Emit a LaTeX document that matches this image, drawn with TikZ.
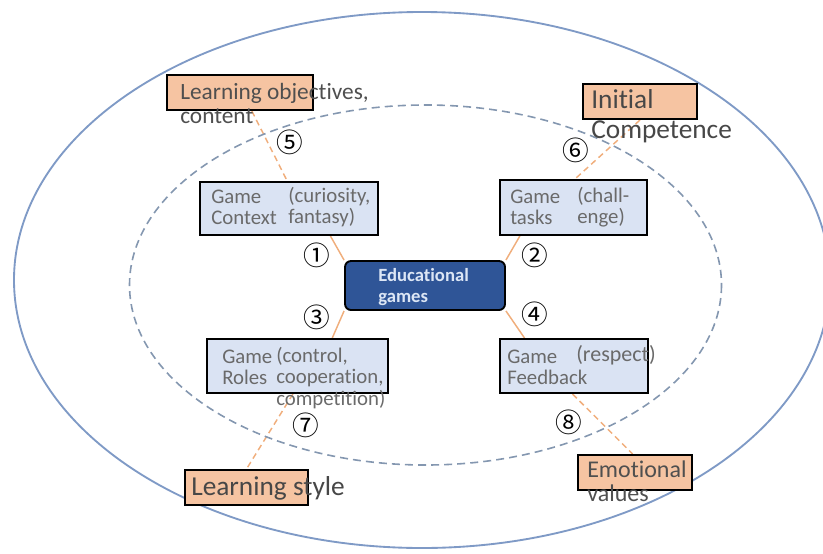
\documentclass[tikz,border=0pt]{standalone}
\usepackage{fontspec}
\setmainfont{Carlito}[Ligatures={NoCommon}]
\newfontfamily\cjkfont{Noto Sans CJK SC}
\usetikzlibrary{calc,fit,backgrounds}
\definecolor{outerblue}{HTML}{7F9AC6}
\definecolor{innerblue}{HTML}{8497B0}
\definecolor{lineorange}{HTML}{F0AE7C}
\definecolor{boxblue}{HTML}{DAE3F3}
\definecolor{boxpeach}{HTML}{F6C4A2}
\definecolor{centerblue}{HTML}{2F5597}
\definecolor{txtgray}{HTML}{6A6A6A}
\definecolor{txtdark}{HTML}{4F4F4F}
\definecolor{centertxt}{HTML}{DCE6F5}
\begin{document}
\begin{tikzpicture}[x=0.75pt,y=-0.75pt,
  gamebox/.style={draw=black,line width=1.5pt,fill=boxblue,inner sep=0pt},
  peachbox/.style={draw=black,line width=1.5pt,fill=boxpeach,inner sep=0pt},
  centerbox/.style={draw=black,line width=1.4pt,fill=centerblue,inner sep=0pt,rounded corners=4.5pt},
  gtext/.style={anchor=west,inner sep=0pt,align=left,text=txtgray,font=\fontsize{15.6}{15.6}\selectfont},
  ptext/.style={anchor=west,inner sep=0pt,align=left,text=txtdark},
  num/.style={inner sep=0pt,font=\cjkfont\fontsize{20}{20}\selectfont},
  solidlink/.style={draw=lineorange,line width=1.1pt},
  dashlink/.style={draw=lineorange,line width=1.1pt,dash pattern=on 4.5pt off 3pt}]
\useasboundingbox (0,0) rectangle (823,553);
\clip (0,0) rectangle (823,553);
% ellipses
\draw[outerblue,line width=1.4pt] (422,280) ellipse [x radius=408, y radius=268];
\draw[innerblue,line width=1.2pt,dash pattern=on 6pt off 3.8pt] (425.5,285) ellipse [x radius=296, y radius=180];
% boxes
\node[gamebox,fit={(200,182) (378,235)}] (b1) {};
\node[gamebox,fit={(500,180) (647,235)}] (b2) {};
\node[gamebox,fit={(207,339) (388,393)}] (b3) {};
\node[gamebox,fit={(500,339) (648,393)}] (b4) {};
\node[centerbox,fit={(345,261) (505,310)}] (c) {};
\node[peachbox,fit={(167,75) (313,110)}] (o5) {};
\node[peachbox,fit={(583,84) (697,119)}] (o6) {};
\node[peachbox,fit={(185,470) (308,505)}] (o7) {};
\node[peachbox,fit={(578,455) (692,490)}] (o8) {};
% connectors
\begin{scope}[on background layer]
\draw[solidlink] ($(b1.south west)!0.73!(b1.south east)$) -- (c.north west);
\draw[solidlink] ($(b2.south west)!0.14!(b2.south east)$) -- (c.north east);
\draw[solidlink] (c.south west) -- ($(b3.north west)!0.69!(b3.north east)$);
\draw[solidlink] (c.south east) -- ($(b4.north west)!0.17!(b4.north east)$);
\draw[dashlink] ($(o5.south west)!0.58!(o5.south east)$) -- ($(b1.north west)!0.49!(b1.north east)$);
\draw[dashlink] ($(o6.south west)!0.5!(o6.south east)$) -- ($(b2.north west)!0.51!(b2.north east)$);
\draw[dashlink] ($(b3.south west)!0.475!(b3.south east)$) -- ($(o7.north west)!0.5!(o7.north east)$);
\draw[dashlink] ($(b4.south west)!0.49!(b4.south east)$) -- ($(o8.north west)!0.48!(o8.north east)$);
\end{scope}
% center text
\node[anchor=west,inner sep=0pt,align=left,text=centertxt,font=\bfseries\fontsize{14}{16}\selectfont] (ct) at (378,287) {Educational\\games};
% game box texts
\node[gtext] (t1a) at (211,207) {Game\\Context};
\node[gtext] (t1b) at (288,207) {(curiosity,\\fantasy)};
\node[gtext] (t2a) at (510,207.5) {Game\\tasks};
\node[gtext] (t2b) at (577,207.5) {(chall-\\enge)};
\node[gtext] (t3a) at (222,367) {Game\\Roles};
\node[gtext,font=\fontsize{15.6}{16.2}\selectfont] (t3b) at (276,378) {(control,\\cooperation,\\competition)};
\node[gtext] (t4a) at (507,367) {Game\\Feedback};
\node[gtext,font=\fontsize{16.5}{16.5}\selectfont] (t4b) at (576,355) {(respect)};
% peach box texts
\node[ptext,font=\fontsize{17.5}{17.5}\selectfont] (t5) at (180,103.5) {Learning objectives,\\content};
\node[ptext,text=txtdark!90!black,font=\fontsize{20.5}{22.5}\selectfont] (t6) at (591,116.5) {Initial\\Competence};
\node[ptext,text=txtdark!90!black,font=\fontsize{20.5}{22.5}\selectfont] (t7) at (191,488) {Learning style};
\node[ptext,font=\fontsize{18}{18}\selectfont] (t8) at (587,481) {Emotional\\values};
% numbers
\node[num] (n1) at (317,255) {①};
\node[num] (n2) at (535,255) {②};
\node[num] (n3) at (317,317) {③};
\node[num] (n4) at (535,314) {④};
\node[num] (n5) at (290,142) {⑤};
\node[num] (n6) at (576,150) {⑥};
\node[num] (n7) at (306,425) {⑦};
\node[num] (n8) at (569,422) {⑧};
\end{tikzpicture}
\end{document}
